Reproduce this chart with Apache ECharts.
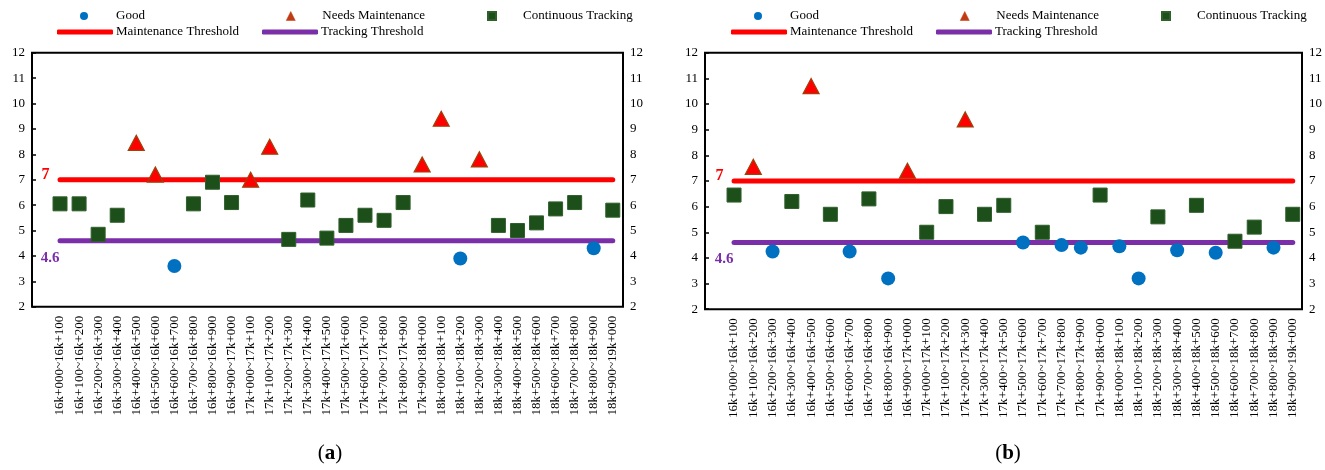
<!DOCTYPE html>
<html>
<head>
<meta charset="utf-8">
<script src="https://cdn.jsdelivr.net/npm/echarts@6/dist/echarts.min.js"></script>
<style>
  html, body { margin: 0; padding: 0; background: #fff; }
  #chart { width: 1325px; height: 470px; }
</style>
</head>
<body>
<div id="chart"></div>
<script>
// Road sections (chainage ranges)
const sections = [
  '16k+000~16k+100', '16k+100~16k+200', '16k+200~16k+300', '16k+300~16k+400', '16k+400~16k+500',
  '16k+500~16k+600', '16k+600~16k+700', '16k+700~16k+800', '16k+800~16k+900', '16k+900~17k+000',
  '17k+000~17k+100', '17k+100~17k+200', '17k+200~17k+300', '17k+300~17k+400', '17k+400~17k+500',
  '17k+500~17k+600', '17k+600~17k+700', '17k+700~17k+800', '17k+800~17k+900', '17k+900~18k+000',
  '18k+000~18k+100', '18k+100~18k+200', '18k+200~18k+300', '18k+300~18k+400', '18k+400~18k+500',
  '18k+500~18k+600', '18k+600~18k+700', '18k+700~18k+800', '18k+800~18k+900', '18k+900~19k+000'
];

// Panel (a): index value per section and its condition class
// G = Good, M = Needs Maintenance, T = Continuous Tracking
const scoresA = [6.05, 6.05, 4.85, 5.6, 8.45, 7.2, 3.6, 6.05, 6.9, 6.1,
                 7.0, 8.3, 4.65, 6.2, 4.7, 5.2, 5.6, 5.4, 6.1, 7.6,
                 9.4, 3.9, 7.8, 5.2, 5.0, 5.3, 5.85, 6.1, 4.3, 5.8];
const statusA = ['T', 'T', 'T', 'T', 'M', 'M', 'G', 'T', 'T', 'T',
                 'M', 'M', 'T', 'T', 'T', 'T', 'T', 'T', 'T', 'M',
                 'M', 'G', 'M', 'T', 'T', 'T', 'T', 'T', 'G', 'T'];

// Panel (b)
const scoresB = [6.45, 7.55, 4.25, 6.2, 10.7, 5.7, 4.25, 6.3, 3.2, 7.4,
                 5.0, 6.0, 9.4, 5.7, 6.05, 4.6, 5.0, 4.5, 4.4, 6.45,
                 4.45, 3.2, 5.6, 4.3, 6.05, 4.2, 4.65, 5.2, 4.4, 5.7];
const statusB = ['T', 'M', 'G', 'T', 'M', 'T', 'G', 'T', 'G', 'M',
                 'T', 'T', 'M', 'T', 'T', 'G', 'T', 'G', 'G', 'T',
                 'G', 'G', 'T', 'G', 'T', 'G', 'T', 'T', 'G', 'T'];

const maintenanceThreshold = 7;
const trackingThreshold = 4.6;
const yMin = 2, yMax = 12, yStep = 1;

const SERIF = '"Liberation Serif", "Times New Roman", serif';
const COLORS = {
  good: '#0070C0',
  maint: '#FF0000',
  maintBorder: '#A0400A',
  maintLegend: '#C03A12',
  track: '#1D4F1A',
  trackBorder: '#2F5F2B',
  maintLine: '#FF0000',
  trackLine: '#7A2FA8'
};

const chart = echarts.init(document.getElementById('chart'), null, { renderer: 'canvas' });

const option = {
  animation: false,
  backgroundColor: '#fff',
  textStyle: { fontFamily: SERIF },
  grid: [],
  xAxis: [],
  yAxis: [],
  legend: [],
  title: [],
  series: []
};

function pick(scores, status, cls) {
  return scores.map((v, i) => (status[i] === cls ? v : '-'));
}

// one legend entry placed at its own spot: icon box starts at iconLeft, text starts at textLeft
function legendItem(name, icon, iconLeft, iconW, iconH, textLeft, rowCenter, itemStyle) {
  const entry = { name: name, icon: icon };
  if (itemStyle) entry.itemStyle = itemStyle;
  return {
    data: [entry],
    left: iconLeft, top: rowCenter - 7.5,
    itemWidth: iconW, itemHeight: iconH,
    selectedMode: false, padding: 0,
    textStyle: {
      fontFamily: SERIF, fontSize: 13, color: '#000',
      padding: [0, 0, 0, textLeft - (iconLeft + iconW + 5)]
    }
  };
}

function addPanel(p, scores, status, L) {
  const frameGrid = option.grid.length;
  const dataGrid = frameGrid + 1;

  // outer frame carrying both value axes
  option.grid.push({
    left: L.frameLeft, top: L.top, width: L.frameWidth, height: L.height,
    show: true, borderColor: '#000', borderWidth: 2, backgroundColor: 'transparent'
  });
  // plotting area holding the category band
  option.grid.push({
    left: L.dataLeft, top: L.top, width: L.dataWidth, height: L.height
  });

  const fx = option.xAxis.length;
  option.xAxis.push({ gridIndex: frameGrid, type: 'value', show: false });
  option.xAxis.push({
    gridIndex: dataGrid, type: 'category', data: sections, boundaryGap: true,
    axisLine: { show: false }, axisTick: { show: false },
    axisLabel: {
      rotate: 90, interval: 0, margin: 9,
      fontFamily: SERIF, fontSize: 13, color: '#000'
    }
  });

  const fy = option.yAxis.length;
  const yCommon = { type: 'value', min: yMin, max: yMax, interval: yStep, splitLine: { show: false } };
  option.yAxis.push(Object.assign({}, yCommon, {
    gridIndex: frameGrid, position: 'left',
    axisLine: { show: false },
    axisTick: { show: true, inside: true, length: 4, lineStyle: { color: '#000', width: 1.5 } },
    axisLabel: { fontFamily: SERIF, fontSize: 13, color: '#000', margin: 7 }
  }));
  option.yAxis.push(Object.assign({}, yCommon, {
    gridIndex: frameGrid, position: 'right',
    axisLine: { show: false }, axisTick: { show: false },
    axisLabel: { fontFamily: SERIF, fontSize: 13, color: '#000', margin: 7 }
  }));
  option.yAxis.push(Object.assign({}, yCommon, { gridIndex: dataGrid, show: false }));

  const xi = fx + 1, yi = fy + 2;
  const first = sections[0], last = sections[sections.length - 1];

  option.series.push({
    name: 'Maintenance Threshold', type: 'line', xAxisIndex: xi, yAxisIndex: yi,
    symbol: 'circle', symbolSize: 1, showSymbol: true, z: 2, silent: true,
    lineStyle: { color: COLORS.maintLine, width: 5, cap: 'round' },
    itemStyle: { color: COLORS.maintLine },
    data: [
      { value: [first, maintenanceThreshold],
        label: { show: true, position: 'left', distance: 10, offset: [0, -5],
                 formatter: String(maintenanceThreshold),
                 fontFamily: SERIF, fontSize: 16, fontWeight: 'bold', color: COLORS.maintLine } },
      [last, maintenanceThreshold]
    ]
  });
  option.series.push({
    name: 'Tracking Threshold', type: 'line', xAxisIndex: xi, yAxisIndex: yi,
    symbol: 'circle', symbolSize: 1, showSymbol: true, z: 2, silent: true,
    lineStyle: { color: COLORS.trackLine, width: 5, cap: 'round' },
    itemStyle: { color: COLORS.trackLine },
    data: [
      { value: [first, trackingThreshold],
        label: { show: true, position: 'left', distance: 0, offset: [0, 17],
                 formatter: String(trackingThreshold),
                 fontFamily: SERIF, fontSize: 15, fontWeight: 'bold', color: COLORS.trackLine } },
      [last, trackingThreshold]
    ]
  });
  option.series.push({
    name: 'Good', type: 'scatter', xAxisIndex: xi, yAxisIndex: yi, z: 5,
    symbol: 'circle', symbolSize: 14,
    itemStyle: { color: COLORS.good, opacity: 1 },
    data: pick(scores, status, 'G')
  });
  option.series.push({
    name: 'Needs Maintenance', type: 'scatter', xAxisIndex: xi, yAxisIndex: yi, z: 5,
    symbol: 'triangle', symbolSize: [16, 15],
    itemStyle: { color: COLORS.maint, borderColor: COLORS.maintBorder, borderWidth: 1.2, opacity: 1 },
    data: pick(scores, status, 'M')
  });
  option.series.push({
    name: 'Continuous Tracking', type: 'scatter', xAxisIndex: xi, yAxisIndex: yi, z: 5,
    symbol: 'rect', symbolSize: 14,
    itemStyle: { color: COLORS.track, borderColor: COLORS.trackBorder, borderWidth: 1, opacity: 1 },
    data: pick(scores, status, 'T')
  });

  // legend: two rows, three columns
  const s = L.shift;
  option.legend.push(legendItem('Good', 'circle', 80 + s, 8, 8, 116 + s, 17));
  option.legend.push(legendItem('Needs Maintenance', 'triangle', 286 + s, 9, 9, 322 + s, 17,
    { color: COLORS.maintLegend, borderColor: COLORS.maintLegend, borderWidth: 0.5 }));
  option.legend.push(legendItem('Continuous Tracking', 'rect', 487 + s, 8, 8, 522 + s, 17));
  option.legend.push(legendItem('Maintenance Threshold', 'roundRect', 57 + s, 56, 5, 116 + s, 33));
  option.legend.push(legendItem('Tracking Threshold', 'roundRect', 262 + s, 56, 5, 321 + s, 33));

  // panel caption
  option.title.push({
    text: '{p|(}{b|' + p + '}{p|)}',
    left: L.caption, top: 438, textAlign: 'center',
    textStyle: {
      rich: {
        p: { fontFamily: SERIF, fontSize: 21, fontWeight: 'normal', color: '#000' },
        b: { fontFamily: SERIF, fontSize: 21, fontWeight: 'bold', color: '#000' }
      }
    }
  });
}

addPanel('a', scoresA, statusA, {
  frameLeft: 32, frameWidth: 591, top: 52.7, height: 254,
  dataLeft: 50.5, dataWidth: 571.8,
  shift: 0, caption: 325
});
addPanel('b', scoresB, statusB, {
  frameLeft: 705, frameWidth: 598, top: 52.7, height: 256.5,
  dataLeft: 724.4, dataWidth: 578,
  shift: 674, caption: 1003
});

chart.setOption(option);
</script>
</body>
</html>
